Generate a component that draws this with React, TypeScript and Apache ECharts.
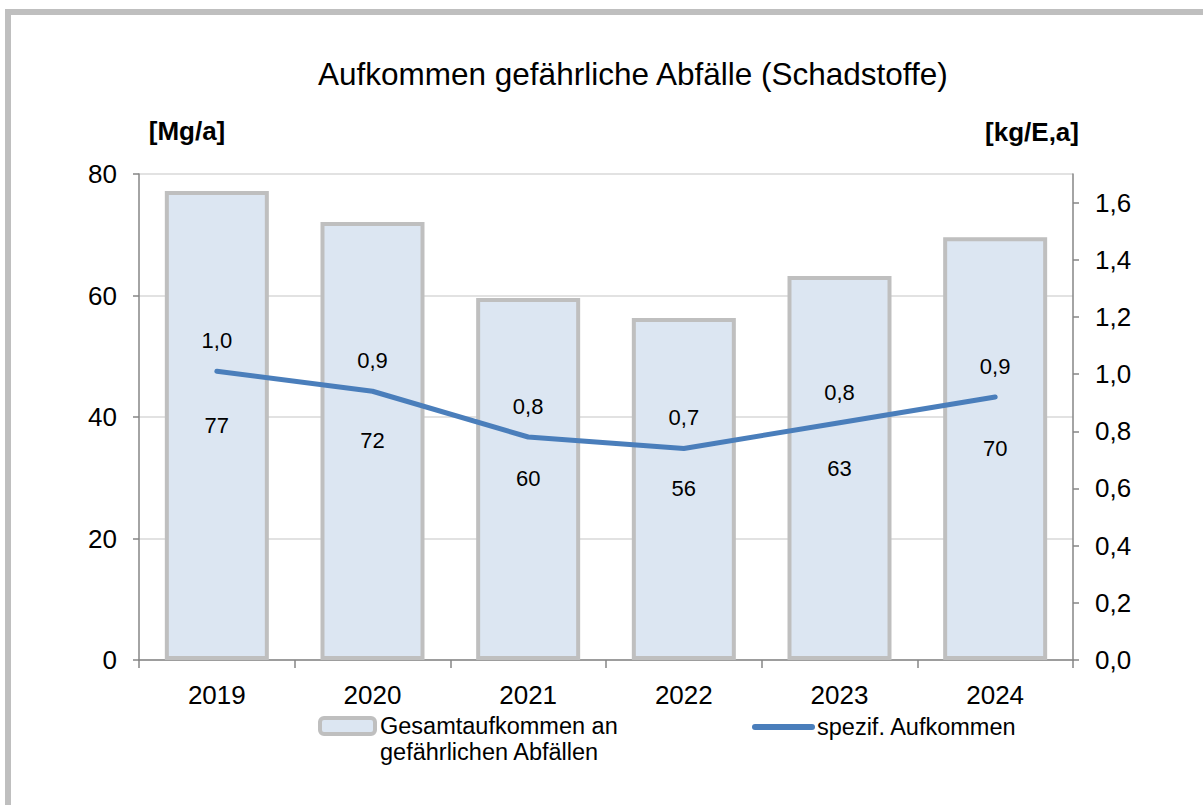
import React, { useEffect, useRef } from 'react';
import * as echarts from 'echarts';

const years = ['2019', '2020', '2021', '2022', '2023', '2024'];
const totalMg = [77.2, 72.1, 59.6, 56.3, 63.2, 69.6];
const specificKg = [1.01, 0.94, 0.78, 0.74, 0.83, 0.92];
const rightTicks = [0, 0.2, 0.4, 0.6, 0.8, 1.0, 1.2, 1.4, 1.6];

const barName = 'Gesamtaufkommen an\ngefährlichen Abfällen';
const lineName = 'spezif. Aufkommen';
const titleText = 'Aufkommen gefährliche Abfälle (Schadstoffe)';
const leftUnit = '[Mg/a]';
const rightUnit = '[kg/E,a]';

const FONT = '"Liberation Sans", Arial, sans-serif';

export default function App() {
  const ref = useRef<HTMLDivElement>(null);

  useEffect(() => {
    document.body.style.margin = '0';
    const chart = echarts.init(ref.current!, null, { renderer: 'svg' });
    const axisColor = '#868686';
    const fmt1 = (v: number) => v.toFixed(1).replace('.', ',');
    chart.setOption({
      animation: false,
      backgroundColor: '#ffffff',
      textStyle: { fontFamily: FONT },
      title: {
        text: titleText,
        left: 318,
        top: 58,
        padding: 0,
        textStyle: { fontSize: 31.5, fontWeight: 'normal', color: '#000', fontFamily: FONT },
      },
      graphic: [
        {
          type: 'rect',
          shape: { x: 8, y: 12, width: 1400, height: 1000 },
          style: { fill: 'none', stroke: '#bfbfbf', lineWidth: 6 },
          silent: true,
          z: -10,
        },
        {
          type: 'text',
          x: 187,
          y: 131,
          style: {
            text: leftUnit,
            fontSize: 26,
            fontWeight: 'bold',
            fill: '#000',
            fontFamily: FONT,
            textAlign: 'center',
            textVerticalAlign: 'middle',
          },
        },
        {
          type: 'text',
          x: 1079,
          y: 132,
          style: {
            text: rightUnit,
            fontSize: 26,
            fontWeight: 'bold',
            fill: '#000',
            fontFamily: FONT,
            textAlign: 'right',
            textVerticalAlign: 'middle',
          },
        },
      ],
      legend: [
        {
          data: [
            {
              name: barName,
              itemStyle: { color: '#dce6f2', borderColor: '#bfbfbf', borderWidth: 4 },
            },
          ],
          formatter: (name: string) => '\n' + name,
          left: 318,
          top: 687,
          padding: 0,
          itemWidth: 55,
          itemHeight: 16,
          selectedMode: false,
          textStyle: {
            fontSize: 23.5,
            lineHeight: 26,
            color: '#000',
            fontFamily: FONT,
          },
        },
        {
          data: [lineName],
          left: 752,
          top: 714,
          padding: 0,
          itemWidth: 57,
          itemHeight: 6,
          selectedMode: false,
          itemStyle: { opacity: 0 },
          lineStyle: { width: 6, cap: 'round', color: '#4a7ebb' },
          textStyle: { fontSize: 23.5, lineHeight: 26, color: '#000', fontFamily: FONT },
        },
      ],
      grid: { left: 139, right: 130, top: 174, bottom: 145 },
      xAxis: {
        type: 'category',
        data: years,
        axisLine: { lineStyle: { color: axisColor, width: 1.5 } },
        axisTick: { show: true, length: 8, lineStyle: { color: axisColor, width: 1.5 } },
        axisLabel: { fontSize: 26, color: '#000', margin: 22, fontFamily: FONT },
      },
      yAxis: [
        {
          type: 'value',
          min: 0,
          max: 80,
          interval: 20,
          position: 'left',
          axisLine: { show: true, lineStyle: { color: axisColor, width: 1.5 } },
          axisTick: { show: true, length: 6, lineStyle: { color: axisColor, width: 1.5 } },
          axisLabel: { fontSize: 26, color: '#000', margin: 22, fontFamily: FONT },
          splitLine: { show: true, lineStyle: { color: '#d9d9d9', width: 1.5 } },
        },
        {
          type: 'value',
          min: 0,
          max: 1.7,
          interval: 0.2,
          position: 'right',
          axisLine: { show: true, lineStyle: { color: axisColor, width: 1.5 } },
          axisTick: {
            show: true,
            length: 6,
            customValues: rightTicks,
            lineStyle: { color: axisColor, width: 1.5 },
          },
          axisLabel: {
            fontSize: 26,
            color: '#000',
            margin: 22,
            fontFamily: FONT,
            customValues: rightTicks,
            formatter: (v: number) => fmt1(v),
          },
          splitLine: { show: false },
        },
      ],
      series: [
        {
          name: barName,
          type: 'bar',
          data: totalMg,
          barWidth: 104,
          itemStyle: { color: '#dce6f2', borderColor: '#bfbfbf', borderWidth: 4 },
          label: {
            show: true,
            position: 'inside',
            fontSize: 22,
            color: '#000',
            fontFamily: FONT,
            formatter: (p: any) => String(Math.round(p.value)),
          },
          z: 1,
        },
        {
          name: lineName,
          type: 'line',
          yAxisIndex: 1,
          data: specificKg,
          symbol: 'circle',
          symbolSize: 1,
          showSymbol: true,
          itemStyle: { color: '#4a7ebb' },
          lineStyle: { color: '#4a7ebb', width: 5, cap: 'round', join: 'round' },
          label: {
            show: true,
            position: 'top',
            distance: 19,
            fontSize: 22,
            color: '#000',
            fontFamily: FONT,
            formatter: (p: any) => fmt1(p.value),
          },
          z: 3,
        },
      ],
    });
    return () => chart.dispose();
  }, []);

  return (
    <div
      ref={ref}
      style={{ position: 'fixed', left: 0, top: 0, width: 1203, height: 805 }}
    />
  );
}
